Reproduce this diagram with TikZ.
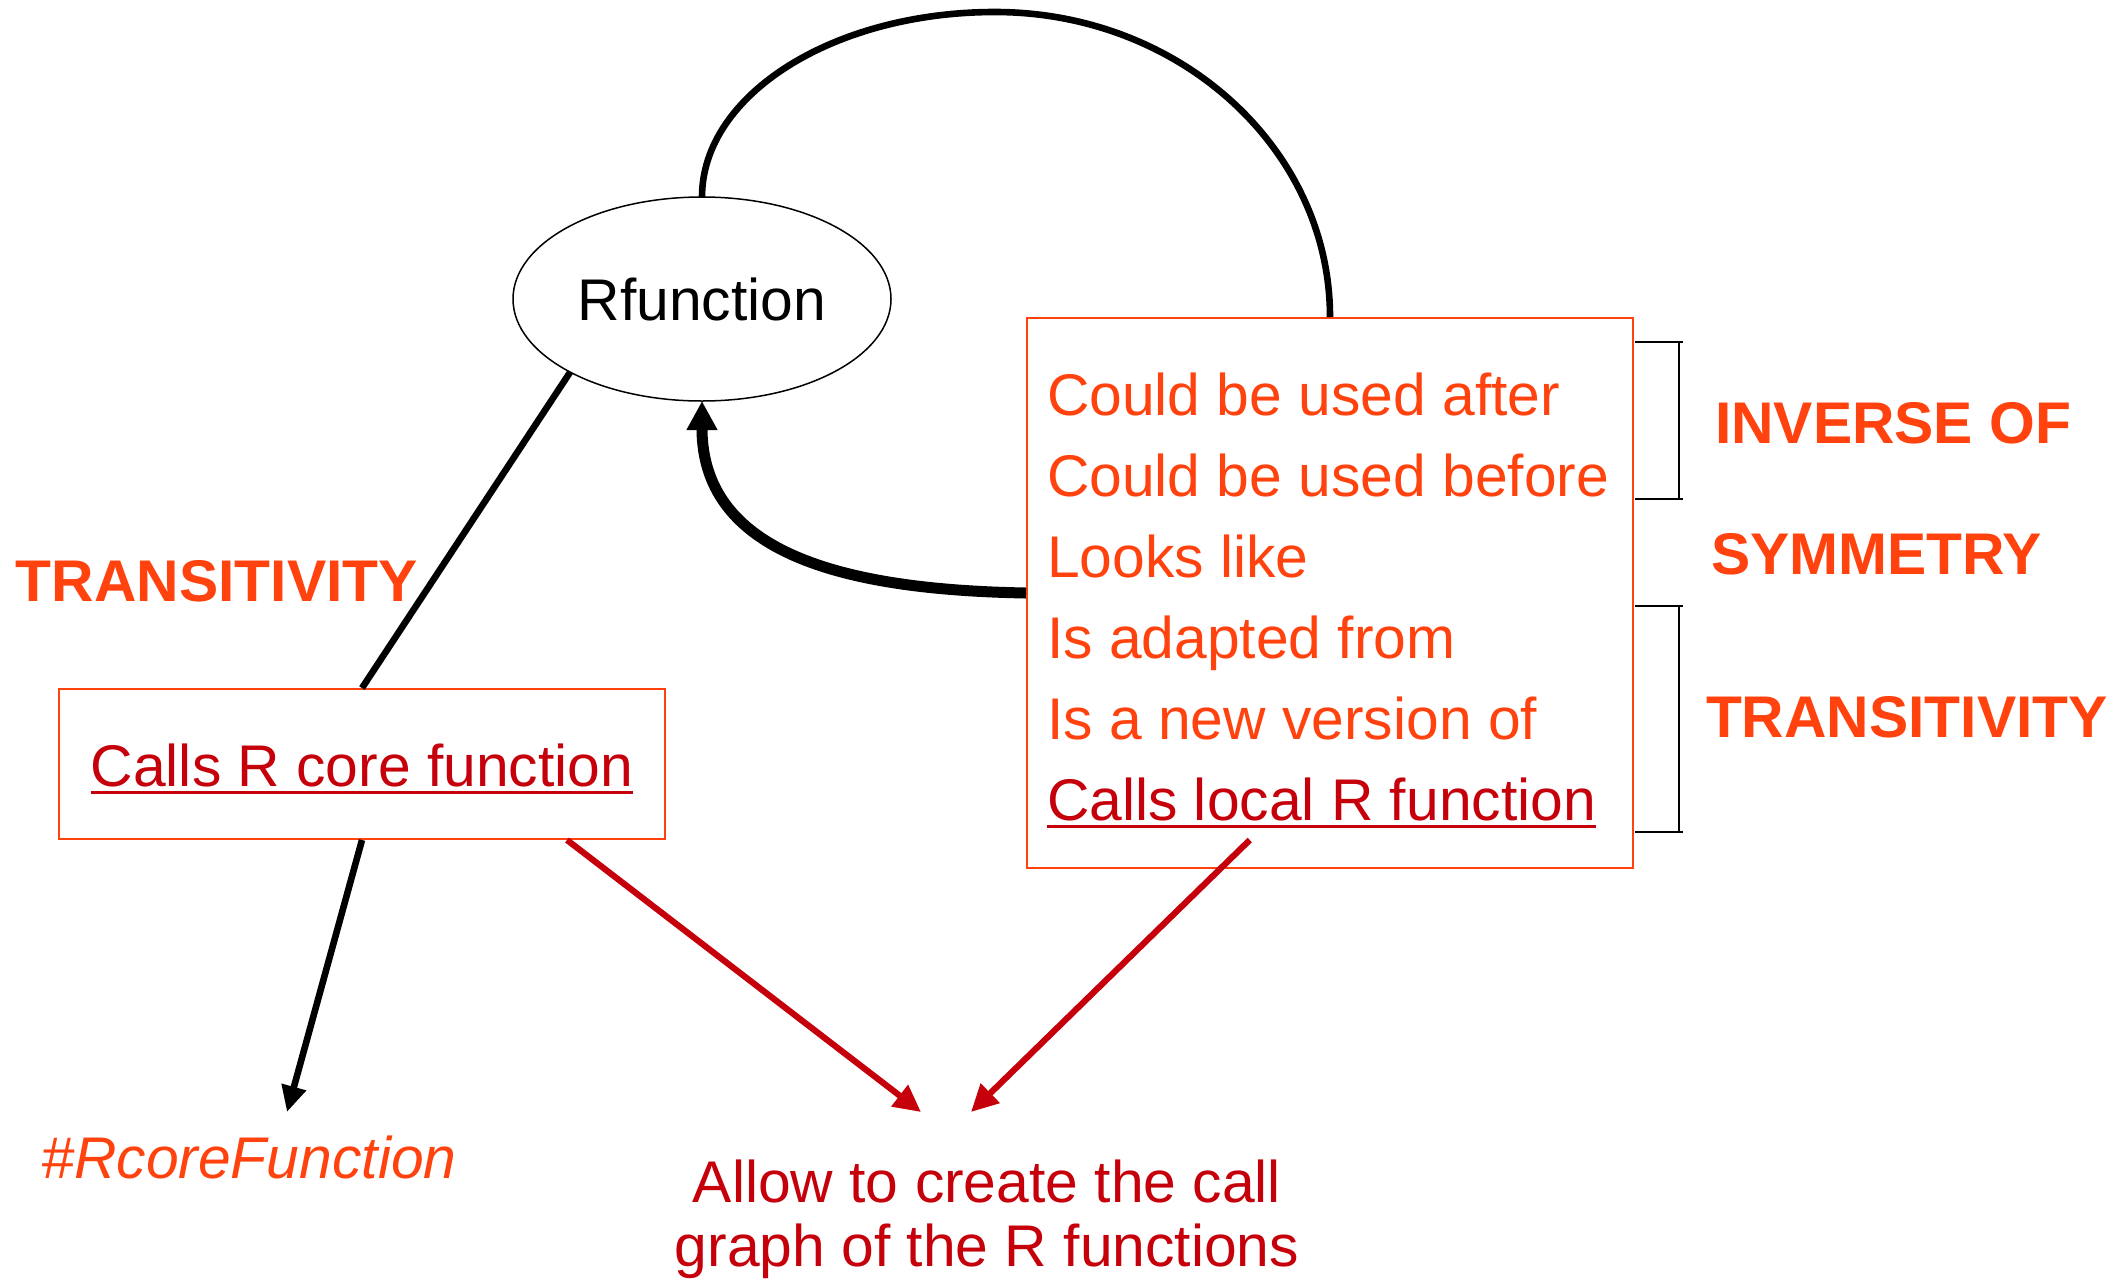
\documentclass[tikz,border=0pt]{standalone}
\usepackage{fontspec}
\setmainfont{Liberation Sans}
\usetikzlibrary{arrows.meta,shapes.geometric,calc}
\definecolor{orng}{HTML}{FF420E}
\definecolor{dred}{HTML}{C5000B}

\begin{document}
\begin{tikzpicture}[x=0.5pt,y=-0.5pt,
  txt/.style={inner sep=0pt, outer sep=0pt, font=\fontsize{29.4pt}{32pt}\selectfont},
  boldtxt/.style={txt, font=\fontsize{29.4pt}{32pt}\selectfont\bfseries},
  frame/.style={draw=orng, line width=1pt, inner sep=0pt, fill=none},
  blk/.style={draw=black, line width=3.3pt},
  redline/.style={draw=dred, line width=3.1pt, -{Triangle[width=13pt,length=13.5pt]}},
  brk/.style={draw=black, line width=1pt},
  uline/.style={line width=1.5pt}]
\useasboundingbox (0,0) rectangle (2114,1280);

% central concept
\node[ellipse, draw, line width=0.75pt, minimum width=189pt, minimum height=102pt,
      inner sep=0pt, txt] (rf) at (702,299) {Rfunction};

% box of relations
\node[frame, minimum width=303pt, minimum height=275pt] (rbox) at (1330,593) {};
\node[txt, orng, anchor=base west] (r1) at (1047,415) {Could be used after};
\node[txt, orng, anchor=base west] (r2) at (1047,496) {Could be used before};
\node[txt, orng, anchor=base west] (r3) at (1047,577) {Looks like};
\node[txt, orng, anchor=base west] (r4) at (1047,658) {Is adapted from};
\node[txt, orng, anchor=base west] (r5) at (1047,739) {Is a new version of};
\node[txt, dred, anchor=base west] (rcall) at (1047,820) {Calls local R function};
\draw[dred, uline] ([yshift=-3pt]rcall.base west) -- ([yshift=-3pt]rcall.base east);

% box of core calls
\node[frame, minimum width=303pt, minimum height=75pt] (lbox) at (362,764) {};
\node[txt, dred, anchor=base] (lcall) at (362,786) {Calls R core function};
\draw[dred, uline] ([yshift=-3pt]lcall.base west) -- ([yshift=-3pt]lcall.base east);

% labels
\node[boldtxt, orng, anchor=base west] (tl) at (16,601) {TRANSITIVITY};
\node[boldtxt, orng, anchor=base west] (inv) at (1715,443) {INVERSE OF};
\node[boldtxt, orng, anchor=base west] (sym) at (1711,574) {SYMMETRY};
\node[boldtxt, orng, anchor=base west] (tr) at (1706,737) {TRANSITIVITY};

\node[txt, orng, anchor=base] (core) at (249,1178) {\itshape\#RcoreFunction};
\node[txt, dred, align=center, anchor=base] (callg) at (987,1266)
  {Allow to create the call\\graph of the R functions};

% brackets beside the relation box
\draw[brk] (1635,342) -- (1683,342) (1679,342) -- (1679,499) (1635,499) -- (1683,499);
\draw[brk] (1635,606) -- (1683,606) (1679,606) -- (1679,832) (1635,832) -- (1683,832);

% connectors
\coordinate (peak) at (995,12);
\draw[blk] (rf.north) .. controls (702,95) and (833,12) .. (peak)
           .. controls (1180,12) and (1330,149) .. (rbox.north);
\draw[draw=black, line width=5.5pt, -{Triangle[width=14.5pt,length=14.5pt]}]
  (rbox.west) .. controls (860,590) and (702,560) .. (rf.south);
\draw[blk] (rf.209) -- (lbox.north);
\coordinate (coreTip) at (287,1112);
\draw[blk, -{Triangle[width=12pt,length=13pt]}] (lbox.south) -- (coreTip);
\coordinate (tipA) at (921,1112);
\coordinate (tipB) at (971,1112);
\draw[redline] ([xshift=102.5pt]lbox.south) -- (tipA);
\draw[redline] ([yshift=14.5pt]$(rbox.south west)!0.368!(rbox.south east)$) -- (tipB);
\end{tikzpicture}
\end{document}
